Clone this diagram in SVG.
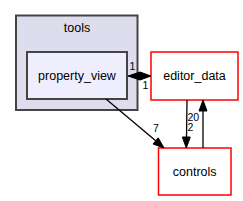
<svg xmlns="http://www.w3.org/2000/svg" width="243" height="201" viewBox="0 0 243 201">
<style>
text{font-family:"Liberation Sans",Arial,sans-serif;font-size:12.5px;fill:#000}
.lbl{font-size:10.5px}
.edge{stroke:#000;stroke-width:1.3;fill:none}
.head{fill:#000;stroke:#000;stroke-width:1}
.red{fill:#fff;stroke:#ff0000;stroke-width:1.5}
</style>
<rect width="243" height="201" fill="#fff"/>
<g id="cluster_tools">
<rect x="16" y="15.5" width="121.5" height="94.5" fill="#ddddee" stroke="#444444" stroke-width="2"/>
<text x="77" y="32" text-anchor="middle">tools</text>
</g>
<g id="node_property_view">
<rect x="27" y="52" width="100" height="47" fill="#eeeeff" stroke="#444444" stroke-width="2"/>
<text x="77" y="80" text-anchor="middle">property_view</text>
</g>
<g id="node_editor_data">
<rect x="151" y="52" width="87" height="48" class="red"/>
<text x="194.5" y="80" text-anchor="middle">editor_data</text>
</g>
<g id="node_controls">
<rect x="158.5" y="148" width="72.5" height="47" class="red"/>
<text x="194.7" y="176" text-anchor="middle">controls</text>
</g>
<g id="edges">
<line x1="138" y1="76" x2="141" y2="76" class="edge"/>
<polygon points="128,76 140,72 140,80" class="head"/>
<polygon points="151,76 140,72 140,80" class="head"/>
<text x="129.5" y="70" class="lbl">1</text>
<text x="142.5" y="89" class="lbl">1</text>
<line x1="106" y1="99" x2="156" y2="141" class="edge"/>
<polygon points="164,148 153,144 158.2,137.8" class="head"/>
<text x="153" y="132" class="lbl">7</text>
<line x1="187" y1="100" x2="186.5" y2="138" class="edge"/>
<polygon points="186.3,148 182.3,137 190.3,137" class="head"/>
<line x1="203" y1="148" x2="203" y2="111" class="edge"/>
<polygon points="203,100 199,111 207,111" class="head"/>
<text x="187.5" y="120.5" class="lbl">20</text>
<text x="187.5" y="131" class="lbl">2</text>
</g>
</svg>
